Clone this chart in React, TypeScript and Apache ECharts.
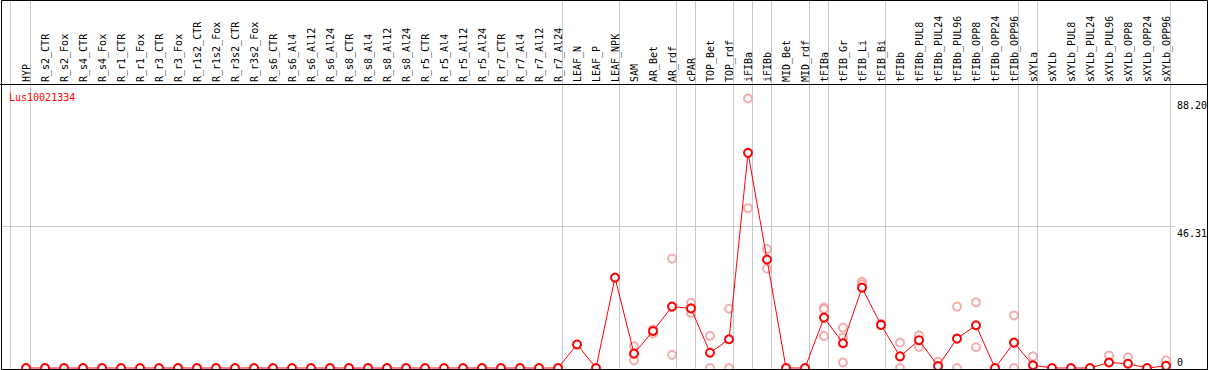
import React, { useEffect, useRef } from "react";
import * as echarts from "echarts";

const categories = [
  "HYP", "R_s2_CTR", "R_s2_Fox", "R_s4_CTR", "R_s4_Fox", "R_r1_CTR", "R_r1_Fox", "R_r3_CTR", "R_r3_Fox",
  "R_r1s2_CTR", "R_r1s2_Fox", "R_r3s2_CTR", "R_r3s2_Fox", "R_s6_CTR", "R_s6_Al4", "R_s6_Al12", "R_s6_Al24",
  "R_s8_CTR", "R_s8_Al4", "R_s8_Al12", "R_s8_Al24", "R_r5_CTR", "R_r5_Al4", "R_r5_Al12", "R_r5_Al24",
  "R_r7_CTR", "R_r7_Al4", "R_r7_Al12", "R_r7_Al24", "LEAF_N", "LEAF_P", "LEAF_NPK", "SAM", "AR_Bet", "AR_rdf",
  "cPAR", "TOP_Bet", "TOP_rdf", "iFIBa", "iFIBb", "MID_Bet", "MID_rdf", "tFIBa", "tFIB_Gr", "tFIB_Li", "tFIB_Bi",
  "tFIBb", "tFIBb_PUL8", "tFIBb_PUL24", "tFIBb_PUL96", "tFIBb_OPP8", "tFIBb_OPP24", "tFIBb_OPP96",
  "sXYLa", "sXYLb", "sXYLb_PUL8", "sXYLb_PUL24", "sXYLb_PUL96", "sXYLb_OPP8", "sXYLb_OPP24", "sXYLb_OPP96",
];

const meanValues = [
  0, 0, 0, 0, 0, 0, 0, 0, 0, 0, 0, 0, 0, 0, 0, 0, 0, 0, 0, 0, 0, 0, 0, 0, 0, 0, 0, 0, 0,
  7.7, 0, 29.6, 4.7, 12.1, 20.1, 19.5, 5.0, 9.4, 70.4, 35.5, 0, 0, 16.5, 8.1, 26.3, 14.1,
  3.8, 9.1, 0.6, 9.6, 14.0, 0, 8.3, 0.9, 0, 0, 0, 1.8, 1.4, 0, 0.7,
];

const replicates: [string, number[]][] = [
  ["SAM", [7.1, 2.5]],
  ["AR_Bet", [12.6, 11.3]],
  ["AR_rdf", [35.8, 4.3]],
  ["cPAR", [21.3, 18.0]],
  ["TOP_Bet", [10.5, 0]],
  ["TOP_rdf", [19.4, 0]],
  ["iFIBa", [88.2, 52.3]],
  ["iFIBb", [38.9, 32.5]],
  ["tFIBa", [19.8, 19.3, 10.5]],
  ["tFIB_Gr", [13.2, 10.0, 1.8]],
  ["tFIB_Li", [28.2, 27.4]],
  ["tFIB_Bi", [14.5]],
  ["tFIBb", [8.3, 0]],
  ["tFIBb_PUL8", [10.7, 6.9]],
  ["tFIBb_PUL24", [2.0]],
  ["tFIBb_PUL96", [20.1, 0]],
  ["tFIBb_OPP8", [21.5, 6.8]],
  ["tFIBb_OPP96", [17.2, 0]],
  ["sXYLa", [3.8]],
  ["sXYLb_PUL96", [4.1]],
  ["sXYLb_OPP8", [3.5]],
  ["sXYLb_OPP96", [2.5]],
];

// group separators drawn after these categories (-1 = before the first)
const groupEnds = [-1, 0, 28, 31, 34, 35, 37, 38, 39, 41, 42, 45, 52, 53, 60];
const yTickLabels = [
  { value: 88.2, text: "88.20" },
  { value: 46.31, text: "46.31" },
  { value: 0, text: "0" },
];
const geneName = "Lus10021334";
const yMax = 92.61;

const MONO = "DejaVu Sans Mono";

export default function App() {
  const ref = useRef<HTMLDivElement>(null);
  useEffect(() => {
    document.body.style.margin = "0";
    const chart = echarts.init(ref.current!, null, { renderer: "svg" });
    const repData: [number, number][] = [];
    replicates.forEach(([cat, vals]) => {
      const idx = categories.indexOf(cat);
      vals.forEach((v) => repData.push([idx, v]));
    });
    chart.setOption({
      animation: false,
      grid: { left: 16.5, top: 85, width: 19 * categories.length, bottom: 2, containLabel: false },
      xAxis: {
        type: "category",
        position: "top",
        data: categories,
        axisLine: { show: false },
        axisTick: { show: false },
        splitLine: { show: false },
        axisLabel: {
          interval: 0,
          rotate: 90,
          margin: 3,
          fontFamily: MONO,
          fontSize: 10,
          color: "#000",
        },
      },
      yAxis: {
        type: "value",
        min: 0,
        max: yMax,
        show: false,
        splitLine: { show: false },
      },
      series: [
        {
          type: "scatter",
          data: repData,
          symbol: "emptyCircle",
          symbolSize: 8,
          itemStyle: { color: "#f09a9a", borderColor: "#f09a9a", borderWidth: 1.5 },
          z: 2,
        },
        {
          type: "line",
          data: meanValues,
          symbol: "emptyCircle",
          symbolSize: 8,
          showAllSymbol: true,
          clip: false,
          lineStyle: { color: "#ff0000", width: 1 },
          itemStyle: { color: "#ff0000", borderColor: "#ee0000", borderWidth: 1.5 },
          z: 3,
        },
      ],
    });

    const c0 = chart.convertToPixel({ xAxisIndex: 0 }, 0) as number;
    const c1 = chart.convertToPixel({ xAxisIndex: 0 }, 1) as number;
    const pitch = c1 - c0;
    const graphics: any[] = [];
    groupEnds.forEach((g) => {
      const cx = c0 + pitch * g;
      const x = Math.round(g < 0 ? c0 - 16 : cx + 4) + 0.5;
      graphics.push({
        type: "line",
        z: 0,
        shape: { x1: x, y1: 0, x2: x, y2: 370 },
        style: { stroke: "#c8c8c8", lineWidth: 1 },
        silent: true,
      });
    });
    const yMid = Math.round(chart.convertToPixel({ yAxisIndex: 0 }, 46.31) as number) + 0.5;
    graphics.push({
      type: "line",
      z: 0,
      shape: { x1: 1, y1: yMid, x2: 1175, y2: yMid },
      style: { stroke: "#c8c8c8", lineWidth: 1 },
      silent: true,
    });
    yTickLabels.forEach((t) => {
      const y = chart.convertToPixel({ yAxisIndex: 0 }, t.value) as number;
      graphics.push({
        type: "text",
        z: 5,
        x: 1177,
        y: t.value === 0 ? y - 1 : y + 2,
        style: {
          text: t.text,
          fill: "#000",
          font: `10px "${MONO}"`,
          textVerticalAlign: t.value === 0 ? "bottom" : "top",
          verticalAlign: t.value === 0 ? "bottom" : "top",
        },
        silent: true,
      });
    });
    graphics.push({
      type: "text",
      z: 5,
      x: 9,
      y: 92,
      style: { text: geneName, fill: "#ff0000", font: `10px "${MONO}"`, verticalAlign: "top" },
      silent: true,
    });
    // header separator and frame
    graphics.push({
      type: "line",
      z: 4,
      shape: { x1: 0, y1: 84.5, x2: 1208, y2: 84.5 },
      style: { stroke: "#000", lineWidth: 1 },
      silent: true,
    });
    graphics.push({
      type: "rect",
      z: 4,
      shape: { x: 1.5, y: 0.5, width: 1206, height: 369 },
      style: { fill: "none", stroke: "#000", lineWidth: 1 },
      silent: true,
    });
    chart.setOption({ graphic: graphics });
    return () => chart.dispose();
  }, []);
  return <div ref={ref} style={{ width: 1209, height: 370 }} />;
}
